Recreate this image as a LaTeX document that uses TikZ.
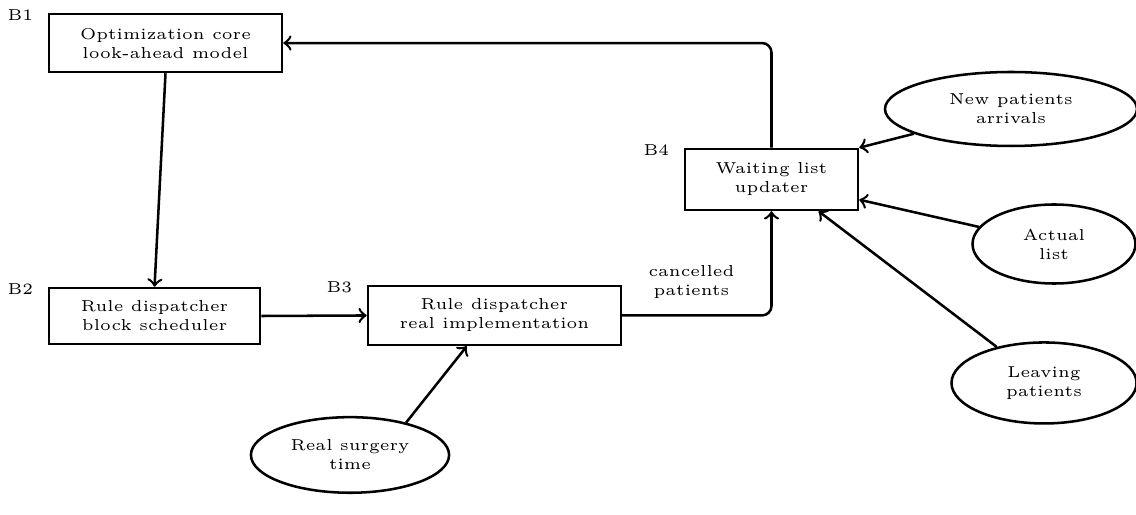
\documentclass[tikz,border=0pt]{standalone}
\usepackage{amsmath, amssymb}
\usepackage{xcolor}
\usetikzlibrary{shapes.geometric, positioning}

\begin{document}
\begin{tikzpicture}[font=\tiny, >=to,
        block/.style={draw, rectangle, thick, align=center},
        source/.style={draw, ellipse, thick, align=center},
        tag/.style={inner sep=1pt, yshift=-0.3mm},
        flow/.style={->, thick, rounded corners=3pt}]
        \useasboundingbox (0,0) rectangle (12.622,5.711);
        % blocks
        \node[block, minimum width=2.589cm, minimum height=0.644cm] (core) at (1.839,5.233) {Optimization core\\look-ahead model};
        \node[block, minimum width=2.344cm, minimum height=0.622cm] (sched) at (1.717,2.2) {Rule dispatcher\\block scheduler};
        \node[block, minimum width=2.811cm, minimum height=0.656cm] (impl) at (5.494,2.206) {Rule dispatcher\\real implementation};
        \node[block, minimum width=1.922cm, minimum height=0.678cm] (updater) at (8.572,3.717) {Waiting list\\updater};
        \node[tag, left=1.2mm of core.north west] {B1};
        \node[tag, left=1.2mm of sched.north west] {B2};
        \node[tag, left=1.2mm of impl.north west] {B3};
        \node[tag, left=1.2mm of updater.north west] {B4};
        % inputs
        \node[source, minimum width=2.8cm, minimum height=0.822cm] (arrivals) at (11.233,4.5) {New patients\\arrivals};
        \node[source, minimum width=1.811cm, minimum height=0.878cm] (actual) at (11.711,3.0) {Actual\\list};
        \node[source, minimum width=2.056cm, minimum height=0.9cm] (leaving) at (11.6,1.456) {Leaving\\patients};
        \node[source, minimum width=2.06cm, minimum height=0.84cm] (surgery) at (3.889,0.656) {Real surgery\\time};
        % connections
        \draw[flow] (core.south) -- (sched.north);
        \draw[flow] (sched.east) -- (impl.west);
        \draw[flow] (impl.east) -- node[above, yshift=0.6mm, xshift=-0.6mm, align=center] {cancelled\\patients} (impl.east -| updater.south) -- (updater.south);
        \draw[flow] (updater.north) |- (core.east);
        \draw[flow] (arrivals) -- (updater.north east);
        \draw[flow] (actual) -- (updater.-13);
        \draw[flow] (leaving) -- (updater.-34);
        \draw[flow] (surgery.30) -- (impl.-132);
    \end{tikzpicture}
\end{document}
